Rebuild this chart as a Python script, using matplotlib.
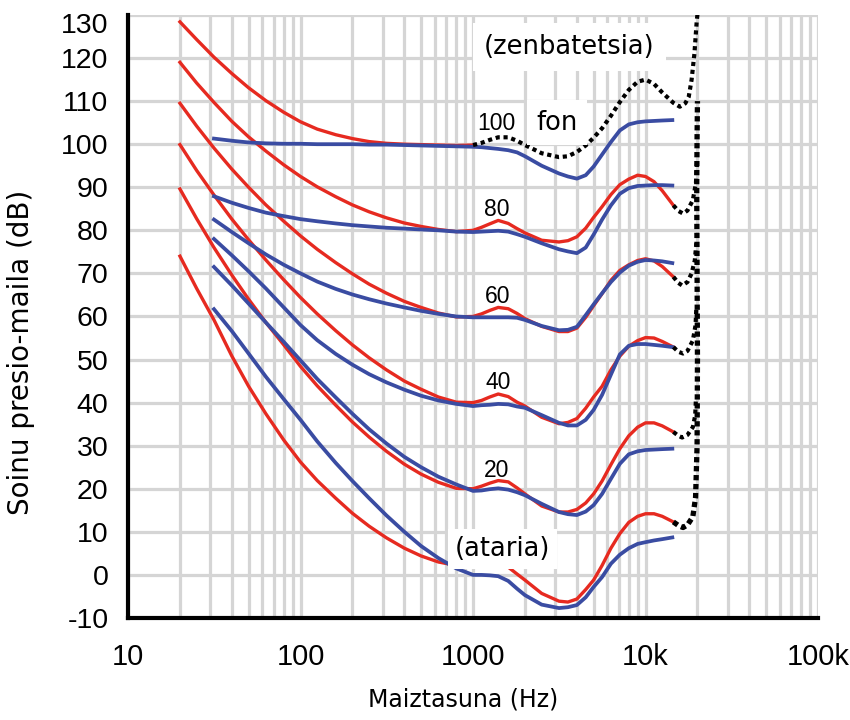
import matplotlib
matplotlib.use("Agg")
import matplotlib.pyplot as plt
import matplotlib.transforms as mtransforms
from matplotlib.ticker import LogLocator, NullFormatter

# ---------------- data ----------------
F_LOW_RED = [20, 25, 31.5, 40, 50, 63, 80, 100, 125, 160, 200, 250, 315, 400, 500, 630, 800, 1000]
F_LOW_BLUE = [31.5, 40, 50, 63, 80, 100, 125, 160, 200, 250, 315, 400, 500, 630, 800, 1000]
F_HIGH_RED = [1120, 1250, 1400, 1600, 1800, 2000, 2500, 3150, 3550, 4000, 4500, 5000,
              5600, 6300, 7100, 8000, 9000, 10000, 11200, 12500, 14500]
F_HIGH_BLUE = [1120, 1250, 1400, 1600, 1800, 2000, 2500, 3150, 3550, 4000, 4500, 5000,
               5600, 6300, 7100, 8000, 9000, 10000, 11200, 12500, 14300]

# red contours (newer standard), dB SPL
RED_100_LOW = [128.4, 124.3, 120.2, 116.4, 113.1, 110.1, 107.4, 105.2, 103.5, 102.2, 101.3, 100.6, 100.2, 100.0, 99.9, 99.8, 99.7, 99.8]
RED_80_LOW = [119.0, 114.2, 109.7, 105.3, 101.7, 98.4, 95.2, 92.5, 90.1, 87.8, 85.9, 84.3, 82.9, 81.7, 80.9, 80.2, 79.7, 80.0]
RED_60_LOW = [109.5, 104.2, 99.1, 94.2, 90.0, 85.9, 82.1, 78.7, 75.6, 72.5, 69.9, 67.5, 65.4, 63.5, 62.1, 60.8, 59.9, 60.0]
RED_40_LOW = [99.9, 93.9, 88.2, 82.6, 77.8, 73.1, 68.5, 64.4, 60.6, 56.7, 53.4, 50.4, 47.6, 45.0, 43.1, 41.3, 40.1, 40.0]
RED_20_LOW = [89.6, 82.7, 76.0, 69.6, 64.0, 58.6, 53.4, 48.4, 43.9, 39.4, 35.5, 32.0, 28.7, 25.7, 23.4, 21.5, 20.1, 20.0]
RED_0_LOW = [74.0, 66.5, 59.2, 50.8, 43.8, 37.4, 31.3, 26.2, 21.9, 17.8, 14.3, 11.3, 8.6, 6.2, 4.4, 3.0, 2.2, 2.4]

RED_80_HIGH = [80.7, 81.5, 82.3, 81.6, 80.4, 79.4, 77.7, 77.3, 77.6, 78.5, 80.5, 83.0, 85.5, 88.3, 90.6, 91.9, 92.8, 92.5, 91.3, 89.2, 85.8]
RED_60_HIGH = [60.6, 61.4, 62.1, 61.8, 60.7, 59.5, 57.7, 56.5, 56.5, 57.3, 59.8, 62.5, 65.3, 68.4, 70.7, 72.0, 73.0, 73.4, 72.9, 71.6, 69.2]
RED_40_HIGH = [40.5, 41.3, 42.0, 41.4, 40.1, 39.2, 36.6, 35.1, 35.4, 36.3, 38.7, 41.3, 43.8, 47.6, 50.8, 53.1, 54.4, 55.1, 55.0, 54.2, 52.9]
RED_20_HIGH = [20.6, 21.3, 21.9, 21.6, 20.2, 18.8, 16.0, 14.6, 14.6, 15.2, 16.7, 18.8, 21.8, 25.6, 29.3, 32.3, 34.3, 35.3, 35.3, 34.6, 33.2]
RED_0_HIGH = [2.7, 3.2, 2.9, 1.8, 0.2, -1.2, -4.3, -6.1, -6.3, -5.6, -3.4, -1.2, 2.2, 6.2, 9.6, 12.2, 13.6, 14.2, 14.2, 13.6, 12.3]

# blue contours (older standard), dB SPL
BLUE_100_LOW = [101.3, 100.8, 100.4, 100.2, 100.1, 100.1, 100.0, 100.0, 100.0, 99.9, 99.9, 99.8, 99.7, 99.6, 99.5, 99.4]
BLUE_80_LOW = [87.9, 86.4, 85.2, 84.1, 83.3, 82.6, 82.1, 81.6, 81.2, 80.9, 80.6, 80.4, 80.2, 80.0, 79.7, 79.6]
BLUE_60_LOW = [82.5, 79.6, 77.0, 74.4, 72.0, 70.0, 68.1, 66.4, 65.1, 64.0, 63.0, 62.1, 61.3, 60.6, 60.0, 59.8]
BLUE_40_LOW = [78.0, 74.2, 70.5, 66.5, 62.1, 58.0, 54.5, 51.3, 48.8, 46.6, 44.7, 43.0, 41.6, 40.5, 39.7, 39.2]
BLUE_20_LOW = [71.5, 67.2, 63.0, 58.6, 54.1, 49.8, 45.5, 41.2, 37.4, 33.8, 30.5, 27.4, 25.0, 22.8, 21.0, 19.5]
BLUE_0_LOW = [61.7, 56.6, 51.4, 46.0, 40.8, 36.0, 31.0, 26.0, 21.8, 17.8, 13.8, 10.0, 6.7, 3.9, 1.5, 0.0]

BLUE_100_HIGH = [99.3, 99.1, 98.9, 98.6, 98.1, 97.2, 95.0, 93.2, 92.5, 92.0, 92.8, 94.8, 97.6, 100.5, 103.2, 104.6, 105.1, 105.3, 105.4, 105.5, 105.6]
BLUE_80_HIGH = [79.7, 79.8, 79.9, 79.7, 79.1, 78.5, 77.0, 75.6, 75.1, 74.7, 76.0, 79.0, 82.5, 85.8, 88.5, 89.8, 90.3, 90.4, 90.5, 90.5, 90.4]
BLUE_60_HIGH = [59.8, 59.8, 59.8, 59.8, 59.7, 59.2, 57.8, 56.8, 56.9, 57.6, 60.3, 62.8, 65.4, 68.0, 70.2, 71.8, 72.7, 73.1, 73.0, 72.8, 72.4]
BLUE_40_HIGH = [39.4, 39.5, 39.7, 39.6, 39.1, 38.8, 37.1, 35.3, 34.7, 34.7, 36.0, 38.3, 41.8, 46.5, 51.2, 53.2, 53.6, 53.6, 53.4, 53.2, 52.9]
BLUE_20_HIGH = [19.6, 19.9, 20.1, 19.8, 19.2, 18.5, 16.5, 14.6, 14.1, 13.9, 14.7, 16.2, 18.8, 22.3, 25.8, 28.0, 28.7, 29.0, 29.1, 29.2, 29.3]
BLUE_0_HIGH = [0.0, -0.1, -0.3, -1.4, -3.2, -4.7, -6.9, -7.7, -7.5, -7.0, -5.2, -2.8, -0.5, 2.6, 4.7, 6.2, 7.2, 7.6, 8.0, 8.3, 8.7]

# dotted (estimated) parts
EST_100_HZ = [1000, 1120, 1250, 1400, 1600, 1800, 2000, 2500, 3150, 3550, 4000, 4500, 5000, 5600, 6300,
              7100, 8000, 9000, 10000, 11200, 12500, 14500, 15800, 17000, 17800, 18500, 19200, 19800, 20100]
EST_100_DB = [99.8, 100.3, 101.0, 101.6, 101.6, 100.8, 99.8, 97.9, 97.0, 97.2, 98.2, 99.7, 101.5, 103.7, 106.6,
              109.8, 112.6, 114.5, 115.0, 114.0, 112.0, 109.6, 108.7, 109.5, 111.0, 115.0, 121.0, 128.5, 131.0]
EST_80_HZ = [14500, 15500, 16500, 17500, 18800, 19600, 19900]
EST_80_DB = [85.8, 84.5, 83.9, 84.6, 87.0, 91.0, 96.0]
EST_60_HZ = [14500, 15500, 16300, 17500, 18500, 19300, 19700]
EST_60_DB = [69.2, 67.8, 67.2, 68.0, 70.0, 73.0, 77.0]
EST_40_HZ = [14500, 15500, 16500, 17500, 18800, 19500, 19700]
EST_40_DB = [52.9, 51.8, 51.4, 52.0, 54.4, 58.0, 62.0]
EST_20_HZ = [14500, 15500, 16300, 17500, 18800, 19400, 19600]
EST_20_DB = [33.2, 32.3, 31.9, 32.5, 34.3, 37.0, 41.0]
EST_0_HZ = [14500, 15600, 16500, 17500, 18800, 19500, 19900, 20000, 19900, 19800, 19900, 20000]
EST_0_DB = [12.3, 11.4, 11.0, 11.6, 13.5, 18.0, 30.0, 50.0, 70.0, 90.0, 102.0, 110.0]

X_TICKS = [10, 100, 1000, 10000, 100000]
X_TICK_LABELS = ["10", "100", "1000", "10k", "100k"]
Y_TICKS = list(range(-10, 131, 10))
Y_TICK_LABELS = [str(v) for v in Y_TICKS]

CONTOUR_LABELS = ["100", "80", "60", "40", "20"]

RED = "#e62a20"
BLUE = "#3a4ca2"

# ---------------- figure ----------------
fig = plt.figure(figsize=(8.5, 7.2), dpi=100)
ax = fig.add_axes([0.1506, 0.1417, 0.8118, 0.8375])
ax.set_xscale("log")
ax.set_xlim(10, 100000)
ax.set_ylim(-10, 130)

ax.xaxis.set_minor_locator(LogLocator(base=10, subs=range(2, 10), numticks=50))
ax.xaxis.set_minor_formatter(NullFormatter())
ax.set_xticks(X_TICKS)
ax.set_xticklabels(X_TICK_LABELS, fontsize=21, family="Liberation Sans")
ax.set_yticks(Y_TICKS)
ax.set_yticklabels(Y_TICK_LABELS, fontsize=20.5, family="Liberation Sans")
ax.tick_params(axis="both", which="both", length=0)
ax.tick_params(axis="x", pad=18)
ax.tick_params(axis="y", pad=14)
top_lab = ax.get_yticklabels()[-1]
top_lab.set_transform(top_lab.get_transform() +
                      mtransforms.ScaledTranslation(0, -6 / 72, fig.dpi_scale_trans))

ax.set_axisbelow(True)
gcol = "#d5d5d5"
ax.grid(True, which="both", axis="x", color=gcol, lw=2.3)
ax.grid(True, which="major", axis="y", color=gcol, lw=2.3)

for s in ("top", "right"):
    ax.spines[s].set_visible(False)
for s in ("left", "bottom"):
    ax.spines[s].set_linewidth(3.0)
    ax.spines[s].set_color("black")

# red curves
red_low = [RED_80_LOW, RED_60_LOW, RED_40_LOW, RED_20_LOW, RED_0_LOW]
red_high = [RED_80_HIGH, RED_60_HIGH, RED_40_HIGH, RED_20_HIGH, RED_0_HIGH]
ax.plot(F_LOW_RED, RED_100_LOW, color=RED, lw=2.4, solid_joinstyle="round", zorder=3)
for lo, hi in zip(red_low, red_high):
    ax.plot(F_LOW_RED + F_HIGH_RED, lo + hi, color=RED, lw=2.4, solid_joinstyle="round", zorder=3)

# blue curves
blue_low = [BLUE_100_LOW, BLUE_80_LOW, BLUE_60_LOW, BLUE_40_LOW, BLUE_20_LOW, BLUE_0_LOW]
blue_high = [BLUE_100_HIGH, BLUE_80_HIGH, BLUE_60_HIGH, BLUE_40_HIGH, BLUE_20_HIGH, BLUE_0_HIGH]
for lo, hi in zip(blue_low, blue_high):
    ax.plot(F_LOW_BLUE + F_HIGH_BLUE, lo + hi, color=BLUE, lw=2.7, solid_joinstyle="round", zorder=4)

# dotted estimated parts
for hz, db in [(EST_100_HZ, EST_100_DB), (EST_80_HZ, EST_80_DB), (EST_60_HZ, EST_60_DB),
               (EST_40_HZ, EST_40_DB), (EST_20_HZ, EST_20_DB)]:
    ax.plot(hz, db, color="black", lw=3.0, ls=(0, (1, 0.9)), zorder=5)
ax.plot(EST_0_HZ, EST_0_DB, color="black", lw=3.8, ls=(0, (1, 0.7)), zorder=5)

# annotations
ax.text(3626, 122.6, "(zenbatetsia)", fontsize=18.5, ha="center", va="center",
        bbox=dict(facecolor="white", edgecolor="none", pad=8), zorder=6)
ax.text(3069, 105.0, "fon", fontsize=18.5, ha="center", va="center",
        bbox=dict(facecolor="white", edgecolor="none", pad=7), zorder=6)
ax.text(1483, 6.0, "(ataria)", fontsize=18.5, ha="center", va="center",
        bbox=dict(facecolor="white", edgecolor="none", pad=5), zorder=6)
for lab, (fx, dbv) in zip(CONTOUR_LABELS, [(1359, 104.9), (1377, 84.9), (1390, 64.6), (1390, 44.6), (1377, 24.2)]):
    ax.text(fx, dbv, lab, fontsize=16.5, family="Liberation Sans", ha="center", va="center", zorder=6)

ax.set_xlabel("Maiztasuna (Hz)", fontsize=17)
ax.xaxis.set_label_coords(0.4855, -0.116)
ax.set_ylabel("Soinu presio-maila (dB)", fontsize=20)
ax.yaxis.set_label_coords(-0.1347, 0.441)

fig.savefig("out.png", dpi=100)
